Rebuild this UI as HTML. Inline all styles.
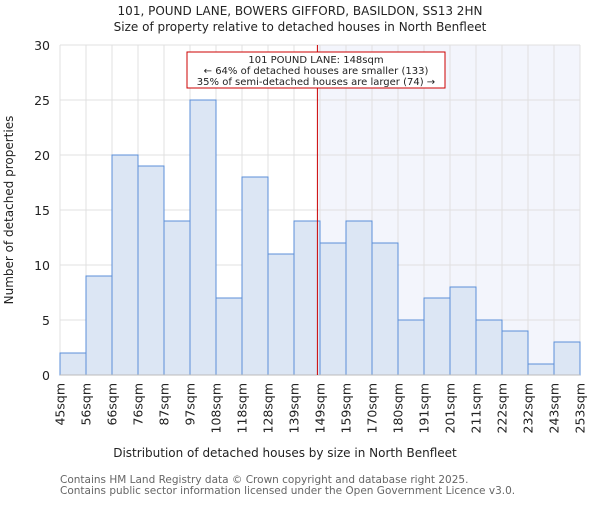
<!DOCTYPE html>
<html><head><meta charset="utf-8"><style>
body{margin:0;background:#fff}
svg{font-family:"DejaVu Sans","Liberation Sans",sans-serif}
</style></head><body>
<svg id="c" width="600" height="500" xmlns="http://www.w3.org/2000/svg">
<text x="300" y="15" text-anchor="middle" font-size="12" fill="#222">101, POUND LANE, BOWERS GIFFORD, BASILDON, SS13 2HN</text>
<text x="300" y="31" text-anchor="middle" font-size="12" fill="#222">Size of property relative to detached houses in North Benfleet</text>
<g id="plot"></g>
<text x="285" y="457" text-anchor="middle" font-size="12" fill="#222">Distribution of detached houses by size in North Benfleet</text>
<text transform="translate(13,210) rotate(-90)" text-anchor="middle" font-size="12" fill="#222">Number of detached properties</text>
<text x="60" y="483" font-size="10.5" fill="#666">Contains HM Land Registry data © Crown copyright and database right 2025.</text>
<text x="60" y="494" font-size="10.5" fill="#666">Contains public sector information licensed under the Open Government Licence v3.0.</text>
</svg>
<script>
const categories=["45sqm","56sqm","66sqm","76sqm","87sqm","97sqm","108sqm","118sqm","128sqm","139sqm","149sqm","159sqm","170sqm","180sqm","191sqm","201sqm","211sqm","222sqm","232sqm","243sqm","253sqm"];
const counts=[2,9,20,19,14,25,7,18,11,14,12,14,12,5,7,8,5,4,1,3];
const yTicks=[0,5,10,15,20,25,30];
const propertyIndex=9.9;
const NS="http://www.w3.org/2000/svg";
const L=60,R=580,T=45,B=375,yMax=30;
const n=counts.length,bw=(R-L)/n;
const x=i=>L+i*bw;
const y=v=>B-(v/yMax)*(B-T);
const g=document.getElementById('plot');
function mk(t,a){const e=document.createElementNS(NS,t);for(const k in a)e.setAttribute(k,a[k]);g.appendChild(e);return e;}
let e=mk('rect',{x:x(propertyIndex),y:T,width:R-x(propertyIndex),height:B-T,fill:'#f3f5fc'});


yTicks.forEach(v=>{const l=mk('line',{x1:L,x2:R,y1:y(v),y2:y(v),stroke:'#e0e0e0','stroke-width':1});


const t=mk('text',{x:L-10,y:y(v)+5,'text-anchor':'end','font-size':12.5,fill:'#222'});t.textContent=v;

});
categories.forEach((c,i)=>{const l=mk('line',{x1:x(i),x2:x(i),y1:T,y2:B,stroke:'#e0e0e0','stroke-width':1});


const t=mk('text',{transform:`translate(${x(i)+4.5},${B+8}) rotate(-90)`,'text-anchor':'end','font-size':12.5,fill:'#222'});t.textContent=c;

});
counts.forEach((v,i)=>{const r=mk('rect',{x:x(i),y:y(v),width:bw,height:B-y(v),fill:'#dce6f4',stroke:'#5b8fd8','stroke-width':1});

});
e=mk('line',{x1:L,x2:R,y1:B,y2:B,stroke:'#bbb'});


e=mk('line',{x1:x(propertyIndex),x2:x(propertyIndex),y1:T,y2:B,stroke:'#c00','stroke-width':1});


e=mk('rect',{x:187,y:52,width:258,height:36,fill:'#fff',stroke:'#c00','stroke-width':1});


["101 POUND LANE: 148sqm","← 64% of detached houses are smaller (133)","35% of semi-detached houses are larger (74) →"].forEach((s,i)=>{const t=mk('text',{x:316,y:63+i*11,'text-anchor':'middle','font-size':10,fill:'#222'});t.textContent=s;

});
</script>
</body></html>
